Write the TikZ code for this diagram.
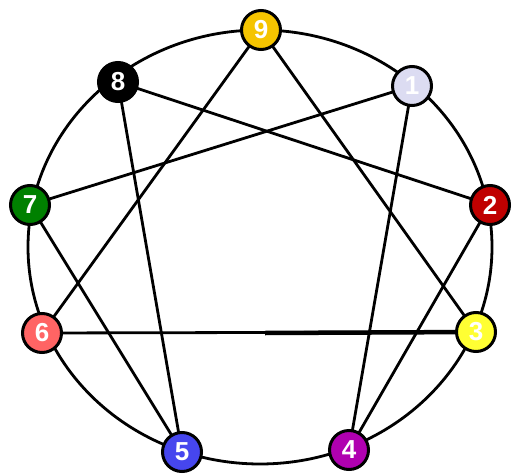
\documentclass[tikz,border=0pt]{standalone}
\usepackage{fontspec}
\setmainfont{Liberation Sans}
\usetikzlibrary{backgrounds}
\definecolor{c9}{HTML}{F5C400}
\definecolor{c1}{HTML}{DCDCF2}
\definecolor{c2}{HTML}{C00000}
\definecolor{c3}{HTML}{FFFF33}
\definecolor{c4}{HTML}{B000B0}
\definecolor{c5}{HTML}{4646EE}
\definecolor{c6}{HTML}{FF6464}
\definecolor{c7}{HTML}{008000}
\definecolor{c8}{HTML}{000000}
\tikzset{
  pt/.style={circle, draw=black, line width=3pt, fill=#1, minimum size=39pt, inner sep=0pt,
    text=white, font=\fontsize{26}{26}\selectfont\bfseries},
  link/.style={draw=black, line width=2.8pt},
}
\begin{document}
\begin{tikzpicture}[x=1pt,y=-1pt]
\useasboundingbox (0,0) rectangle (513,473);
\node[pt=c9] (n9) at (261,30) {9};
\node[pt=c1] (n1) at (412,86) {1};
\node[pt=c2] (n2) at (490,205) {2};
\node[pt=c3] (n3) at (476,332) {3};
\node[pt=c4] (n4) at (349,450) {4};
\node[pt=c5] (n5) at (182,452) {5};
\node[pt=c6] (n6) at (42,333) {6};
\node[pt=c7] (n7) at (30,205) {7};
\node[pt=c8] (n8) at (118,82) {8};
\coordinate (m36) at (265,333);
\begin{pgfonlayer}{background}
  \draw[link] (260,247) ellipse [x radius=232pt, y radius=217pt];
  \draw[link] (n9.center) -- (n3.center);
  \draw[link] (n9.center) -- (n6.center);
  \draw[link] (n6.center) -- (n3.center);
  \draw[draw=black, line width=4.5pt] (m36) -- (n3.center);
  \draw[link] (n1.center) -- (n4.center);
  \draw[link] (n4.center) -- (n2.center);
  \draw[link] (n2.center) -- (n8.center);
  \draw[link] (n8.center) -- (n5.center);
  \draw[link] (n5.center) -- (n7.center);
  \draw[link] (n7.center) -- (n1.center);
\end{pgfonlayer}
\end{tikzpicture}
\end{document}
